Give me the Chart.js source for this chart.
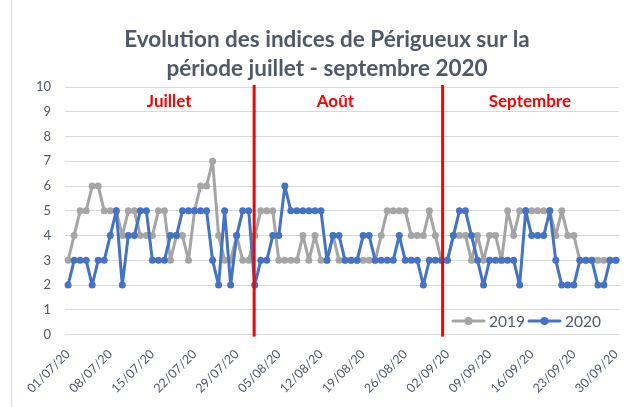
<!DOCTYPE html>
<html>
<head>
<meta charset="utf-8">
<script src="https://cdn.jsdelivr.net/npm/chart.js@4.4.1/dist/chart.umd.min.js"></script>
<style>
  html, body { margin: 0; padding: 0; background: #fff; }
  canvas { display: block; }
</style>
</head>
<body>
<canvas id="chart" width="641" height="407"></canvas>
<script>
// jours du 01/07/20 au 30/09/20
const mois = [['07', 31], ['08', 31], ['09', 30]];
const jours = [];
mois.forEach(([m, n]) => {
  for (let d = 1; d <= n; d++) jours.push(String(d).padStart(2, '0') + '/' + m + '/20');
});

const tickLabels = ['01/07/20', '08/07/20', '15/07/20', '22/07/20', '29/07/20', '05/08/20', '12/08/20',
  '19/08/20', '26/08/20', '02/09/20', '09/09/20', '16/09/20', '23/09/20', '30/09/20'];

const yTicks = [0, 1, 2, 3, 4, 5, 6, 7, 8, 9, 10];

const indices2019 = [
  // juillet
  3, 4, 5, 5, 6, 6, 5, 5, 5, 4, 5, 5, 4, 4, 4, 5, 5, 3, 4, 4, 3, 5, 6, 6, 7, 4, 3, 3, 4, 3, 3,
  // août
  4, 5, 5, 5, 3, 3, 3, 3, 4, 3, 4, 3, 3, 4, 3, 3, 3, 3, 3, 3, 3, 4, 5, 5, 5, 5, 4, 4, 4, 5, 4,
  // septembre
  3, 3, 4, 4, 4, 3, 4, 3, 4, 4, 3, 5, 4, 5, 5, 5, 5, 5, 5, 4, 5, 4, 4, 3, 3, 3, 3, 3, 3, 3
];

const indices2020 = [
  // juillet
  2, 3, 3, 3, 2, 3, 3, 4, 5, 2, 4, 4, 5, 5, 3, 3, 3, 4, 4, 5, 5, 5, 5, 5, 3, 2, 5, 2, 4, 5, 5,
  // août
  2, 3, 3, 4, 4, 6, 5, 5, 5, 5, 5, 5, 3, 4, 4, 3, 3, 3, 4, 4, 3, 3, 3, 3, 4, 3, 3, 3, 2, 3, 3,
  // septembre
  3, 3, 4, 5, 5, 4, 3, 2, 3, 3, 3, 3, 3, 2, 5, 4, 4, 4, 5, 3, 2, 2, 2, 3, 3, 3, 2, 2, 3, 3
];

// séparations des mois (position sur l'axe des jours) et noms des mois
const separations = [30.9, 62.2];
const nomsMois = ['Juillet', 'Août', 'Septembre'];
const posMois = [16.8, 44.4, 76.7];
const yMois = 9.4;

const couleurs = { c2019: '#a5a5a5', c2020: '#4472c4', texte: '#4f5968', grille: '#d9d9d9', rouge: '#ff0000' };
const police = 'Lato, "Open Sans", sans-serif';

const decorPlugin = {
  id: 'decor',
  afterDatasetsDraw(chart) {
    const { ctx, chartArea, scales: { x, y } } = chart;
    ctx.save();
    // lignes rouges
    ctx.strokeStyle = couleurs.rouge;
    ctx.lineWidth = 3;
    separations.forEach(v => {
      const px = x.getPixelForValue(v);
      ctx.beginPath();
      ctx.moveTo(px, chartArea.top - 2);
      ctx.lineTo(px, chartArea.bottom + 2);
      ctx.stroke();
    });
    // noms des mois
    ctx.fillStyle = couleurs.rouge;
    ctx.font = 'bold 17px ' + police;
    ctx.textAlign = 'center';
    ctx.textBaseline = 'middle';
    nomsMois.forEach((n, i) => ctx.fillText(n, x.getPixelForValue(posMois[i]), y.getPixelForValue(yMois)));
    // légende
    const items = [
      { label: '2019', color: couleurs.c2019 },
      { label: '2020', color: couleurs.c2020 }
    ];
    let lx = 453;
    const ly = y.getPixelForValue(0.55);
    ctx.font = '15.5px ' + police;
    ctx.textAlign = 'left';
    ctx.lineCap = 'round';
    items.forEach(it => {
      ctx.strokeStyle = it.color;
      ctx.fillStyle = it.color;
      ctx.lineWidth = 3;
      ctx.beginPath();
      ctx.moveTo(lx, ly);
      ctx.lineTo(lx + 31, ly);
      ctx.stroke();
      ctx.beginPath();
      ctx.arc(lx + 15.5, ly, 4, 0, Math.PI * 2);
      ctx.fill();
      ctx.fillStyle = couleurs.texte;
      ctx.fillText(it.label, lx + 36, ly + 1);
      lx += 76;
    });
    ctx.restore();
  }
};

new Chart(document.getElementById('chart'), {
  type: 'line',
  data: {
    labels: jours,
    datasets: [
      {
        label: '2019',
        data: indices2019,
        borderColor: couleurs.c2019,
        backgroundColor: couleurs.c2019,
        borderWidth: 3,
        borderJoinStyle: 'round',
        borderCapStyle: 'round',
        pointRadius: 3.5,
        pointBorderWidth: 0,
        tension: 0,
        order: 1
      },
      {
        label: '2020',
        data: indices2020,
        borderColor: couleurs.c2020,
        backgroundColor: couleurs.c2020,
        borderWidth: 3,
        borderJoinStyle: 'round',
        borderCapStyle: 'round',
        pointRadius: 3.5,
        pointBorderWidth: 0,
        tension: 0,
        order: 0
      }
    ]
  },
  options: {
    responsive: false,
    animation: false,
    devicePixelRatio: 1,
    layout: { padding: { top: 87, left: 22, right: 22, bottom: 7 } },
    scales: {
      x: {
        offset: true,
        grid: { display: false },
        border: { display: false },
        ticks: {
          autoSkip: false,
          minRotation: 45,
          maxRotation: 45,
          color: couleurs.texte,
          font: { family: police, size: 12.5 },
          padding: 4,
          callback: (v, i) => tickLabels.includes(jours[i]) ? jours[i] : ''
        }
      },
      y: {
        min: 0,
        max: 10,
        afterBuildTicks: axis => { axis.ticks = yTicks.map(v => ({ value: v })); },
        grid: { color: couleurs.grille, lineWidth: 1, drawTicks: false },
        border: { display: false },
        ticks: {
          color: couleurs.texte,
          font: { family: police, size: 13 },
          padding: 14
        }
      }
    },
    plugins: {
      legend: { display: false },
      tooltip: { enabled: false },
      title: { display: false }
    }
  },
  plugins: [decorPlugin, {
    id: 'titre',
    afterDraw(chart) {
      const ctx = chart.ctx;
      ctx.save();
      // bordure gauche du cadre
      ctx.strokeStyle = couleurs.grille;
      ctx.lineWidth = 1;
      ctx.beginPath();
      ctx.moveTo(11.5, 0);
      ctx.lineTo(11.5, 407);
      ctx.stroke();
      ctx.fillStyle = couleurs.texte;
      ctx.font = 'bold 22.5px ' + police;
      ctx.textAlign = 'center';
      ctx.textBaseline = 'middle';
      ctx.fillText('Evolution des indices de Périgueux sur la', 327, 40);
      ctx.fillText('période juillet - septembre 2020', 327, 69);
      ctx.restore();
    }
  }]
});
</script>
</body>
</html>
